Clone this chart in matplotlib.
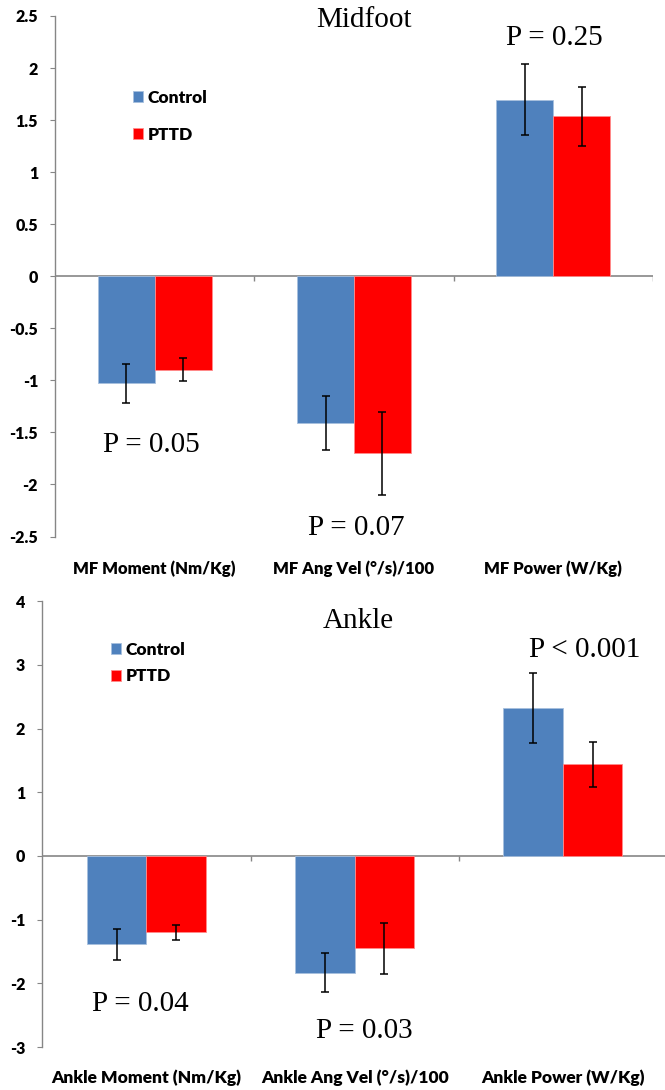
import matplotlib
matplotlib.use("Agg")
import matplotlib.pyplot as plt
import numpy as np

# ---- data ----
mf_categories = ["MF Moment (Nm/Kg)", "MF Ang Vel (\u00b0/s)/100", "MF Power (W/Kg)"]
mf_control = [-1.03, -1.41, 1.695]
mf_control_err = [0.19, 0.255, 0.34]
mf_pttd = [-0.90, -1.70, 1.535]
mf_pttd_err = [0.11, 0.40, 0.285]
mf_pvals = ["P = 0.05", "P = 0.07", "P = 0.25"]

ank_categories = ["Ankle Moment (Nm/Kg)", "Ankle Ang Vel (\u00b0/s)/100", "Ankle Power (W/Kg)"]
ank_control = [-1.39, -1.83, 2.33]
ank_control_err = [0.24, 0.31, 0.55]
ank_pttd = [-1.20, -1.45, 1.44]
ank_pttd_err = [0.12, 0.40, 0.35]
ank_pvals = ["P = 0.04", "P = 0.03", "P < 0.001"]

series_names = ["Control", "PTTD"]
colors = ["#4F81BD", "#FF0000"]

W, H = 665, 1090
fig = plt.figure(figsize=(W / 100, H / 100), dpi=100)

serif = "Liberation Serif"


def panel(rect_px, cats, ctrl, ctrl_err, pttd, pttd_err, ylim, yticks, ytlabels,
          xlab_size, xlab_pad, title, title_pos, pvals, ppos, leg_anchor, leg_spacing):
    x0, y_top, x1, y_bot = rect_px
    ax = fig.add_axes([x0 / W, 1 - y_bot / H, (x1 - x0) / W, (y_bot - y_top) / H])
    x = np.arange(len(cats))
    bw = 1 / 3.5
    ax.bar(x - bw / 2, ctrl, bw, color=colors[0], label=series_names[0],
           edgecolor="#A7C0DE", linewidth=0.6, zorder=2)
    ax.bar(x + bw / 2, pttd, bw, color=colors[1], label=series_names[1],
           edgecolor="#FF8C8C", linewidth=0.6, zorder=2)
    ax.errorbar(x - bw / 2, ctrl, yerr=ctrl_err, fmt="none", ecolor="black",
                elinewidth=1.1, capsize=3, capthick=1.1, zorder=3)
    ax.errorbar(x + bw / 2, pttd, yerr=pttd_err, fmt="none", ecolor="black",
                elinewidth=1.1, capsize=3, capthick=1.1, zorder=3)
    ax.set_xlim(-0.5, len(cats) - 0.5)
    ax.set_ylim(*ylim)
    ax.set_yticks(yticks)
    ax.set_yticklabels(ytlabels, family="Lato", weight="heavy", size=11.5)
    ax.tick_params(axis="y", direction="out", length=3.6, width=0.8,
                   color="#868686", pad=8.6)
    ax.set_xticks(x)
    ax.set_xticklabels(cats, family="Lato", weight="heavy", size=xlab_size)
    ax.tick_params(axis="x", length=0, pad=xlab_pad)
    for s in ["top", "right", "bottom"]:
        ax.spines[s].set_visible(False)
    ax.spines["left"].set_color("#868686")
    ax.spines["left"].set_linewidth(1.0)
    ax.axhline(0, color="#868686", linewidth=1.2, zorder=1)
    # category boundary tick marks on the zero axis (5 px long)
    span = ylim[1] - ylim[0]
    tick_len = 5 / (y_bot - y_top) * span
    ax.vlines([0.5, 1.5, 2.5], 0, -tick_len, color="#868686", linewidth=1.0)
    ax.text(title_pos[0], title_pos[1], title, family=serif, size=21,
            ha="center", va="baseline")
    for (px, py), t in zip(ppos, pvals):
        ax.text(px, py, t, family=serif, size=21, ha="center", va="baseline")
    ax.legend(loc="upper left", bbox_to_anchor=leg_anchor, frameon=False,
              handlelength=0.6, handleheight=0.6, handletextpad=0.25,
              labelspacing=leg_spacing, borderaxespad=0, borderpad=0,
              prop=dict(family="Lato", weight="heavy", size=12.5))
    return ax


panel((55, 16, 653, 536.5),
      mf_categories, mf_control, mf_control_err, mf_pttd, mf_pttd_err,
      (-2.5, 2.5), np.arange(-2.5, 2.51, 0.5),
      ["-2.5", "-2", "-1.5", "-1", "-0.5", "0", "0.5", "1", "1.5", "2", "2.5"],
      12, 17,
      "Midfoot", (1.048, 2.394), mf_pvals,
      [(-0.018, -1.692), (1.014, -2.488), (2.005, 2.217)],
      (0.13, 0.858), 1.19)

panel((42.3, 601.3, 667, 1047),
      ank_categories, ank_control, ank_control_err, ank_pttd, ank_pttd_err,
      (-3, 4), np.arange(-3, 4.1, 1),
      ["-3", "-2", "-1", "0", "1", "2", "3", "4"],
      12.5, 16,
      "Ankle", (1.018, 3.576), ank_pvals,
      [(-0.028, -2.434), (1.046, -2.854), (2.107, 3.130)],
      (0.11, 0.909), 0.61)

fig.savefig("out.png", dpi=100)
